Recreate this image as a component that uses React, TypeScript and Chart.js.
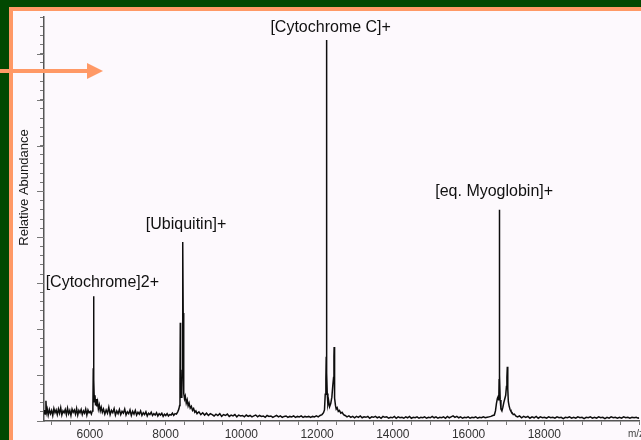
import React, { useEffect, useRef } from "react";
import { Chart, registerables } from "chart.js";

Chart.register(...registerables);

type Pt = [number, number];

// m/z, relative abundance (arbitrary units, axis 0..88)
const noiseLow: Pt[] = [
  [4789, 1.6], [4805, 2.4], [4825, 1.5], [4840, 4.4], [4855, 1.9], [4875, 2.6], [4900, 1.3], [4930, 2.5],
  [4960, 1.6], [4990, 2.3], [5020, 1.2], [5050, 2.7], [5080, 1.8], [5110, 2.4], [5140, 1.4], [5170, 2.6],
  [5200, 1.7], [5230, 2.9], [5260, 1.3], [5290, 2.2], [5320, 1.8], [5350, 2.5], [5380, 1.4], [5410, 2.8],
  [5440, 1.6], [5470, 2.3], [5500, 1.2], [5530, 2.6], [5560, 1.9], [5590, 2.4], [5620, 1.5], [5650, 2.7],
  [5680, 1.3], [5710, 2.3], [5740, 1.8], [5770, 2.5], [5800, 1.4], [5830, 2.2], [5860, 1.7], [5890, 2.6],
  [5920, 1.3], [5950, 2.4], [5980, 1.8], [6010, 2.1], [6040, 1.5], [6065, 2.2],
];

const peakCytochrome2: Pt[] = [
  [6080, 2.8], [6090, 11.5], [6098, 27.2], [6106, 9.0], [6118, 4.2], [6135, 5.6], [6150, 3.4], [6165, 4.8],
  [6185, 3.2], [6205, 4.1], [6225, 2.6], [6250, 3.5], [6275, 2.2], [6300, 3.0], [6330, 1.9],
];

const noiseMid: Pt[] = [
  [6360, 2.6], [6395, 1.5], [6430, 2.4], [6465, 1.7], [6500, 3.0], [6535, 1.4], [6570, 2.3], [6605, 1.8],
  [6640, 2.7], [6675, 1.3], [6710, 2.2], [6745, 1.6], [6780, 2.5], [6815, 1.4], [6850, 2.1], [6885, 1.7],
  [6920, 2.6], [6955, 1.3], [6990, 2.0], [7025, 1.6], [7060, 2.4], [7095, 1.2], [7130, 2.1], [7165, 1.5],
  [7200, 2.3], [7235, 1.3], [7270, 1.9], [7305, 1.5], [7340, 2.2], [7375, 1.2], [7410, 1.8], [7445, 1.4],
  [7480, 2.0], [7515, 1.1], [7550, 1.7], [7585, 1.4], [7620, 1.9], [7655, 1.2], [7690, 1.6], [7725, 1.3],
  [7760, 1.8], [7795, 1.1], [7830, 1.6], [7865, 1.3], [7900, 1.7], [7935, 1.0], [7970, 1.5], [8005, 1.2],
  [8040, 1.6], [8075, 1.1], [8110, 1.4], [8145, 1.3], [8180, 1.7], [8215, 1.2], [8250, 1.6], [8285, 1.5],
  [8320, 2.0], [8350, 2.6],
];

const peakUbiquitin: Pt[] = [
  [8370, 3.4], [8380, 8.0], [8388, 21.4], [8396, 7.5], [8410, 5.2], [8428, 6.5], [8440, 11.0], [8448, 24.0],
  [8456, 39.0], [8464, 23.5], [8472, 9.0], [8485, 6.0], [8500, 4.8], [8520, 5.4], [8545, 3.9], [8570, 4.6],
  [8595, 3.3], [8620, 3.9], [8650, 2.8], [8680, 3.2], [8710, 2.3], [8740, 2.7], [8770, 1.9], [8800, 2.2],
];

const noiseQuiet1: Pt[] = [
  [8830, 1.6], [8880, 2.0], [8930, 1.4], [8980, 1.8], [9030, 1.3], [9080, 1.7], [9130, 1.2], [9180, 1.6],
  [9230, 1.4], [9280, 1.1], [9330, 1.5], [9380, 1.2], [9430, 1.6], [9480, 1.0], [9530, 1.4], [9580, 1.2],
  [9630, 1.5], [9680, 1.0], [9730, 1.3], [9780, 1.1], [9830, 1.4], [9880, 0.9], [9930, 1.3], [9980, 1.1],
  [10030, 1.2], [10080, 0.9], [10130, 1.3], [10180, 1.0], [10230, 1.2], [10280, 0.9], [10330, 1.1], [10380, 1.3],
  [10430, 0.9], [10480, 1.2], [10530, 1.0], [10580, 1.1], [10630, 0.8], [10680, 1.2], [10730, 1.0], [10780, 1.1],
  [10830, 0.8], [10880, 1.0], [10930, 1.2], [10980, 0.9], [11030, 1.1], [11080, 0.8], [11130, 1.0], [11180, 1.1],
  [11230, 0.8], [11280, 1.0], [11330, 0.9], [11380, 1.1], [11430, 0.8], [11480, 1.0], [11530, 0.9], [11580, 1.1],
  [11630, 0.8], [11680, 1.0], [11730, 0.9], [11780, 1.0], [11830, 0.8], [11880, 1.0], [11930, 0.9], [11980, 1.1],
  [12030, 0.9], [12080, 1.2], [12130, 1.4], [12170, 1.8],
];

const peakCytochromeC: Pt[] = [
  [12195, 2.4], [12215, 5.8], [12232, 9.2], [12241, 14.0], [12248, 83.0], [12256, 10.5], [12268, 6.0],
  [12285, 3.6], [12305, 4.4], [12330, 3.1], [12360, 3.8], [12390, 5.2], [12415, 7.8], [12435, 9.5],
  [12445, 14.0], [12450, 16.1], [12456, 8.5], [12468, 5.0], [12485, 3.4], [12505, 2.6], [12530, 2.9],
  [12560, 2.1], [12590, 2.3], [12625, 1.7], [12660, 1.9], [12700, 1.4],
];

const noiseQuiet2: Pt[] = [
  [12740, 1.2], [12790, 0.9], [12840, 1.1], [12890, 0.8], [12940, 1.0], [12990, 0.7], [13040, 1.0], [13090, 0.8],
  [13140, 1.1], [13190, 0.7], [13240, 0.9], [13290, 0.8], [13340, 1.0], [13390, 0.6], [13440, 0.9], [13490, 0.8],
  [13540, 1.0], [13590, 0.7], [13640, 0.9], [13690, 0.6], [13740, 1.0], [13790, 0.8], [13840, 0.9], [13890, 0.6],
  [13940, 0.8], [13990, 0.7], [14040, 1.0], [14090, 0.6], [14140, 0.9], [14190, 0.7], [14240, 0.8], [14290, 0.6],
  [14340, 0.9], [14390, 0.7], [14440, 1.0], [14490, 0.6], [14540, 0.8], [14590, 0.7], [14640, 0.9], [14690, 0.6],
  [14740, 0.8], [14790, 0.7], [14840, 0.9], [14890, 0.6], [14940, 0.8], [14990, 0.7], [15040, 1.0], [15090, 0.7],
  [15140, 0.9], [15190, 0.6], [15240, 0.8], [15290, 0.7], [15340, 0.9], [15390, 0.6], [15440, 1.0], [15490, 0.7],
  [15540, 0.9], [15590, 1.1], [15640, 0.8], [15690, 1.0], [15740, 0.7], [15790, 0.9], [15840, 0.6], [15890, 0.8],
  [15940, 0.7], [15990, 0.9], [16040, 0.6], [16090, 0.8], [16140, 0.7], [16190, 0.9], [16240, 0.6], [16290, 0.8],
  [16340, 0.7], [16390, 0.9], [16440, 0.7], [16490, 0.8], [16540, 0.9], [16590, 1.0], [16640, 1.2],
];

const peakMyoglobin: Pt[] = [
  [16680, 1.3], [16710, 2.2], [16735, 3.8], [16760, 4.9], [16780, 5.3], [16798, 4.5], [16806, 9.0], [16813, 46.0],
  [16820, 10.0], [16835, 4.6], [16855, 2.6], [16880, 2.2], [16905, 3.0], [16930, 4.0], [16955, 4.8], [16980, 5.6],
  [17000, 7.5], [17012, 9.5], [17023, 11.8], [17035, 7.0], [17050, 4.2], [17070, 3.3], [17095, 2.5], [17120, 2.1],
  [17150, 1.8], [17180, 1.4], [17210, 1.5], [17245, 1.1],
];

const noiseQuiet3: Pt[] = [
  [17290, 0.9], [17345, 1.1], [17400, 0.7], [17455, 1.0], [17510, 0.8], [17565, 1.0], [17620, 0.6], [17675, 0.9],
  [17730, 0.7], [17785, 1.0], [17840, 0.6], [17895, 0.9], [17950, 0.7], [18005, 0.8], [18060, 0.6], [18115, 0.9],
  [18170, 0.7], [18225, 0.8], [18280, 0.6], [18335, 0.9], [18390, 0.7], [18445, 0.8], [18500, 0.5], [18555, 0.8],
  [18610, 0.7], [18665, 0.9], [18720, 0.6], [18775, 0.8], [18830, 0.6], [18885, 0.9], [18940, 0.7], [18995, 0.8],
  [19050, 0.5], [19105, 0.8], [19160, 0.7], [19215, 0.9], [19270, 0.6], [19325, 0.8], [19380, 0.6], [19435, 0.9],
  [19490, 0.7], [19545, 0.8], [19600, 0.5], [19655, 0.8], [19710, 0.6], [19765, 0.9], [19820, 0.7], [19875, 0.8],
  [19930, 0.6], [19985, 0.8], [20040, 0.6], [20095, 0.9], [20150, 0.7], [20205, 0.8], [20260, 0.6], [20315, 0.8],
  [20370, 0.7], [20425, 0.8], [20480, 0.6], [20506, 0.7],
];

const xTickValues = [
  5000, 5500, 6000, 6500, 7000, 7500, 8000, 8500, 9000, 9500, 10000, 10500, 11000, 11500, 12000, 12500,
  13000, 13500, 14000, 14500, 15000, 15500, 16000, 16500, 17000, 17500, 18000, 18500, 19000, 19500, 20000, 20500,
];
const xTickLabels = [6000, 8000, 10000, 12000, 14000, 16000, 18000];
const peakLabels = ["[Cytochrome]2+", "[Ubiquitin]+", "[Cytochrome C]+", "[eq. Myoglobin]+"];
const peakLabelMz = [6329, 8541, 12358, 16676];
const peakLabelIntensity = [30.1, 42.7, 85.8, 49.9];

const FONT = '"Liberation Sans", Arial, Helvetica, sans-serif';

const decor = {
  id: "decor",
  beforeDraw(chart: any) {
    const { ctx, width: w, height: h } = chart;
    ctx.save();
    ctx.fillStyle = "#014801";
    ctx.fillRect(0, 0, w, h);
    ctx.fillStyle = "#ff9966";
    ctx.fillRect(9, 7, w - 9, h - 7);
    ctx.fillStyle = "#fdf9fd";
    ctx.fillRect(13, 11, w - 13, h - 11);
    ctx.restore();
  },
  afterDraw(chart: any) {
    const { ctx, chartArea, scales } = chart;
    const xs = scales.x;
    const ys = scales.y;
    ctx.save();
    // longer y ticks
    ctx.strokeStyle = "#777";
    ctx.lineWidth = 1;
    for (let v = 0; v <= 88; v += 10) {
      const py = Math.round(ys.getPixelForValue(v)) + 0.5;
      ctx.beginPath();
      ctx.moveTo(chartArea.left - 7, py);
      ctx.lineTo(chartArea.left, py);
      ctx.stroke();
    }
    // peak annotations
    ctx.fillStyle = "#111";
    ctx.font = `16px ${FONT}`;
    ctx.textAlign = "center";
    ctx.textBaseline = "middle";
    peakLabels.forEach((t, i) => {
      ctx.fillText(t, xs.getPixelForValue(peakLabelMz[i]), ys.getPixelForValue(peakLabelIntensity[i]));
    });
    // y axis title
    ctx.save();
    ctx.translate(24.5, 187.5);
    ctx.rotate(-Math.PI / 2);
    ctx.font = `13px ${FONT}`;
    ctx.fillStyle = "#1a1a1a";
    ctx.fillText("Relative Abundance", 0, 0);
    ctx.restore();
    // x axis unit (cut by edge)
    ctx.font = `10px ${FONT}`;
    ctx.fillStyle = "#444";
    ctx.textAlign = "left";
    ctx.fillText("m/z", 628, 434);
    // arrow
    ctx.fillStyle = "#ff9966";
    ctx.fillRect(0, 69, 89, 4);
    ctx.beginPath();
    ctx.moveTo(87, 63);
    ctx.lineTo(103, 71);
    ctx.lineTo(87, 79);
    ctx.closePath();
    ctx.fill();
    ctx.restore();
  },
};

export default function App() {
  const ref = useRef<HTMLCanvasElement | null>(null);
  useEffect(() => {
    if (!ref.current) return;
    const points = [
      ...noiseLow, ...peakCytochrome2, ...noiseMid, ...peakUbiquitin, ...noiseQuiet1,
      ...peakCytochromeC, ...noiseQuiet2, ...peakMyoglobin, ...noiseQuiet3,
    ].map(([x, y]) => ({ x, y }));
    const chart = new Chart(ref.current, {
      type: "line",
      data: {
        datasets: [
          {
            data: points,
            borderColor: "#0d0d0d",
            borderWidth: 1.5,
            pointRadius: 0,
            tension: 0,
            fill: false,
          },
        ],
      },
      options: {
        animation: false,
        responsive: false,
        devicePixelRatio: 1,
        layout: { padding: { left: 40, top: 17, right: -2, bottom: 6.6 } },
        plugins: { legend: { display: false }, tooltip: { enabled: false } },
        scales: {
          x: {
            type: "linear",
            min: 4789,
            max: 20506,
            afterBuildTicks: (scale: any) => {
              scale.ticks = xTickValues.map((value) => ({ value }));
            },
            border: { color: "#555", width: 1.5 },
            grid: { drawOnChartArea: false, tickLength: 4, color: "#777" },
            ticks: {
              autoSkip: false,
              maxRotation: 0,
              minRotation: 0,
              padding: 2,
              color: "#333",
              font: { family: FONT, size: 12 },
              callback: (v: any) => (xTickLabels.includes(Number(v)) ? String(v) : ""),
            },
          },
          y: {
            type: "linear",
            min: 0,
            max: 88,
            border: { color: "#555", width: 1.5 },
            grid: { drawOnChartArea: false, tickLength: 4, color: "#777" },
            ticks: { display: false, stepSize: 2 },
          },
        },
      },
      plugins: [decor],
    } as any);
    return () => chart.destroy();
  }, []);
  return (
    <div style={{ position: "fixed", left: 0, top: 0, width: 641, height: 440, overflow: "hidden", background: "#014801" }}>
      <canvas ref={ref} width={641} height={450} style={{ display: "block" }} />
    </div>
  );
}
